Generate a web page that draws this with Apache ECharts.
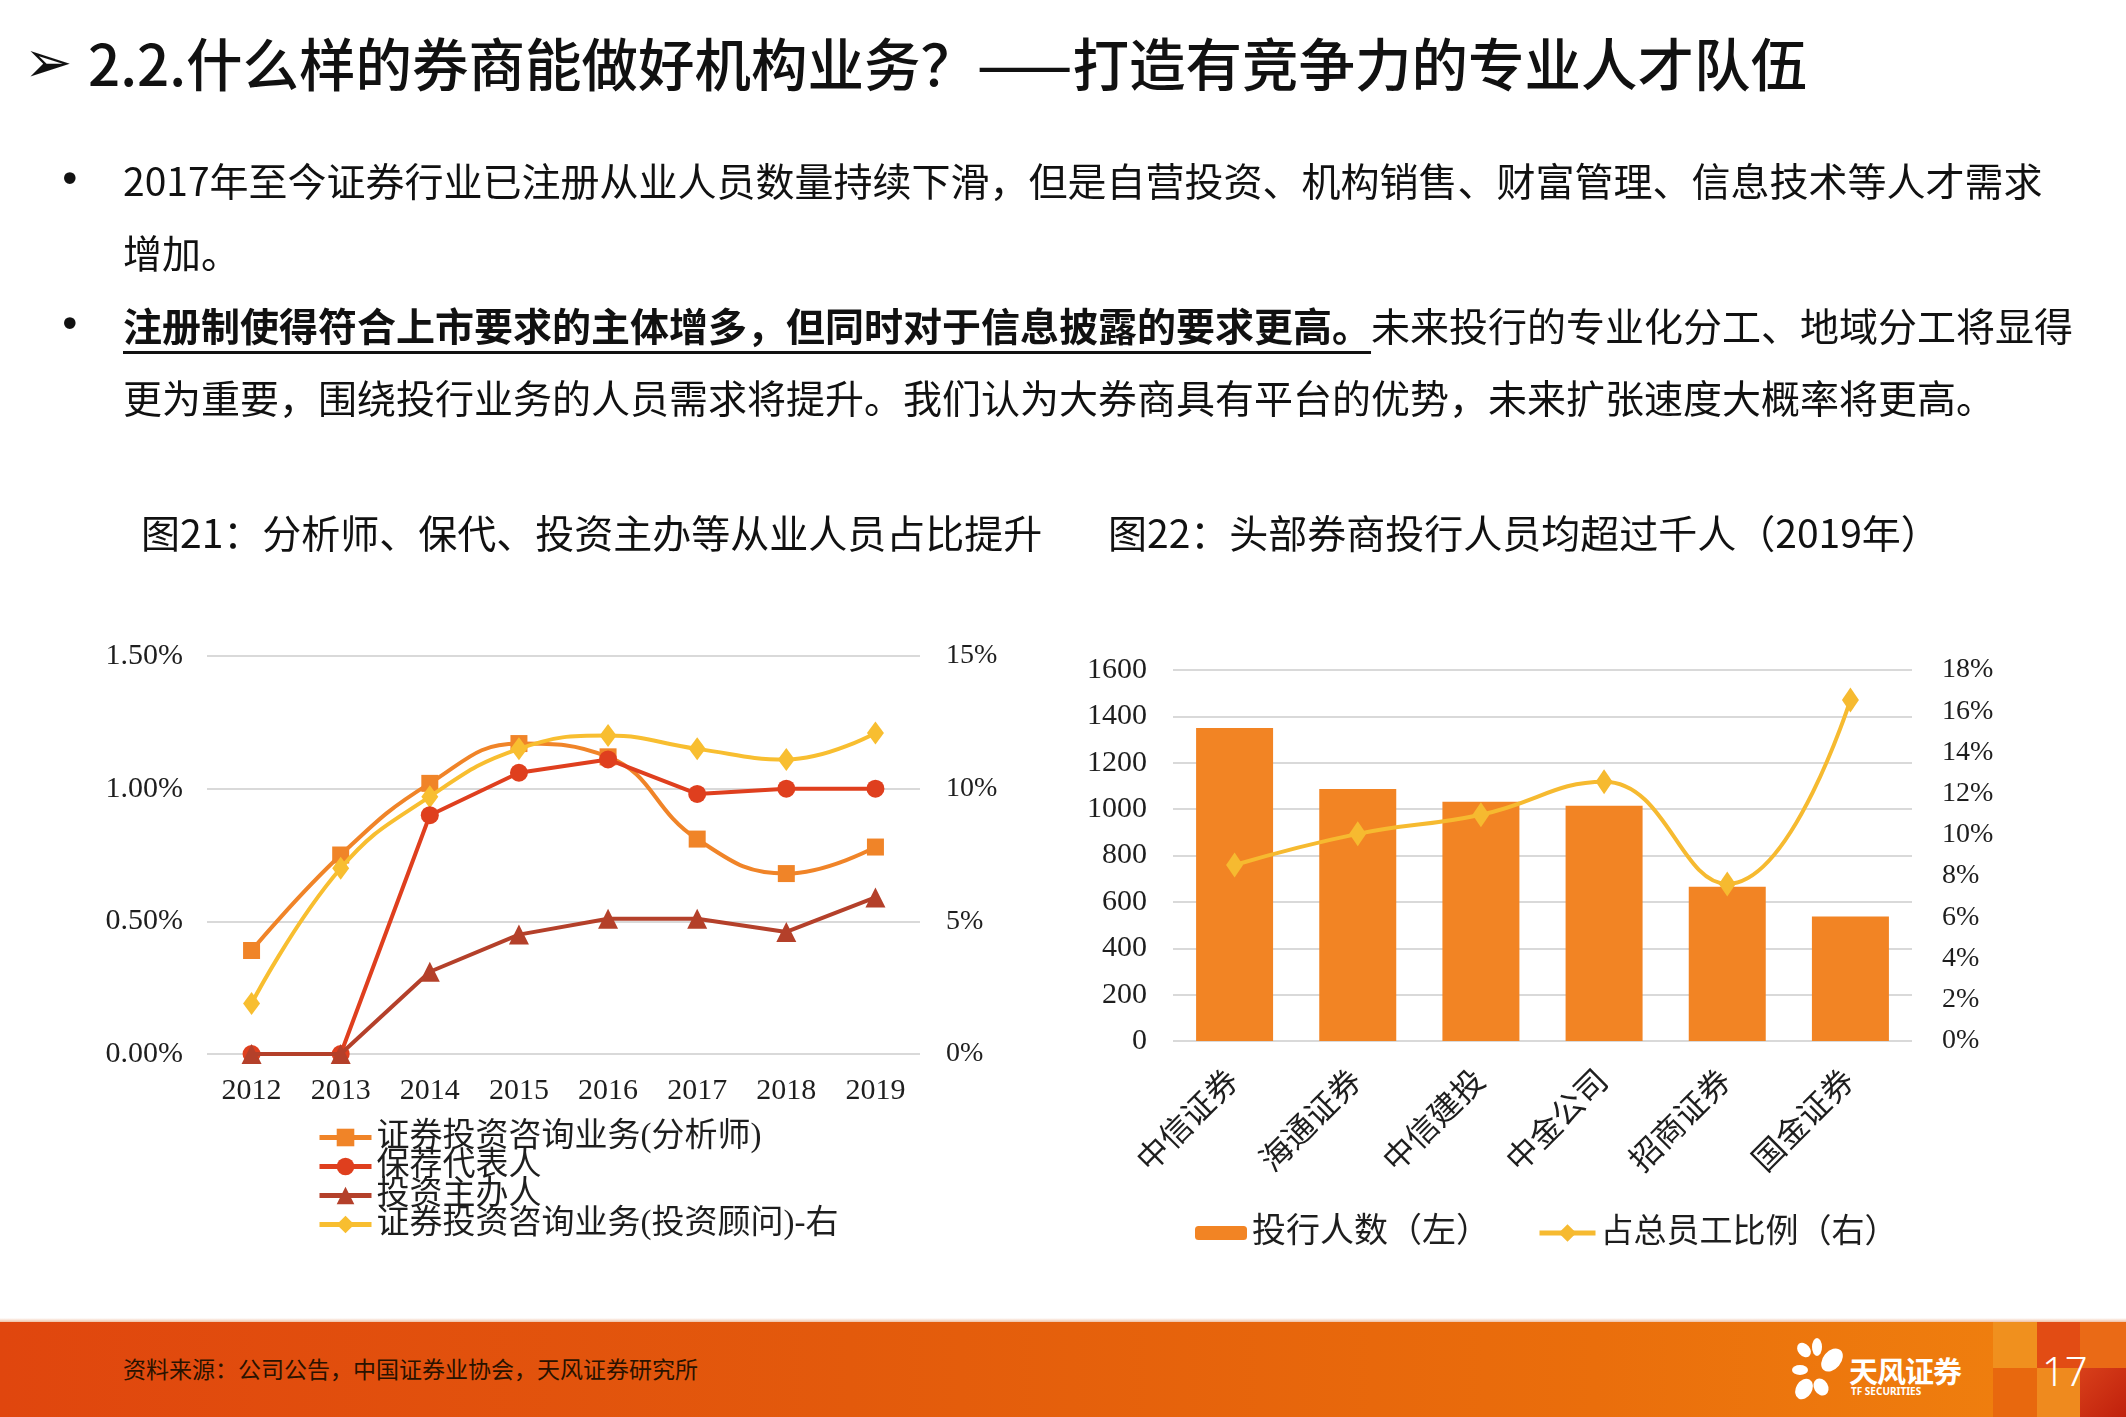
<!DOCTYPE html>
<html>
<head>
<meta charset="utf-8">
<script src="https://cdn.jsdelivr.net/npm/echarts@6/dist/echarts.min.js"></script>
<style>
html,body{margin:0;padding:0;width:2126px;height:1417px;overflow:hidden;background:#fff;
  font-family:"Noto Sans CJK SC","Noto Sans",sans-serif;color:#111;}
#chart{position:absolute;left:0;top:0;width:2126px;height:1417px;}
.t{position:absolute;white-space:nowrap;}
#title{left:88px;top:33px;font-size:56.5px;line-height:57px;font-weight:500;}
#arrow{left:24px;top:30px;font-size:58px;line-height:64px;font-family:"DejaVu Sans",sans-serif;}
.body{font-size:39px;line-height:40px;left:123px;}
.dot{font-size:40px;line-height:40px;left:58px;font-family:"DejaVu Sans",sans-serif;}
.b{font-weight:bold;text-decoration:underline;text-decoration-thickness:3px;text-underline-offset:10px;}
.ct{font-size:39px;line-height:39px;top:512px;}
#footer{position:absolute;left:0;top:1322px;width:2126px;height:95px;
  background:linear-gradient(90deg,#E0460E 0%,#E35A0C 40%,#EA6E0C 75%,#EF7E0E 94%);}
#footer .shadow{position:absolute;left:0;top:-4px;width:100%;height:4px;background:linear-gradient(180deg,rgba(240,200,170,0),rgba(220,120,60,0.45));}
.blk{position:absolute;}
#src{left:123px;top:1356px;font-size:23px;line-height:24px;color:#2a1200;}
#pno{left:2042px;top:1349px;font-size:40px;line-height:44px;color:#fff;font-family:"Noto Sans","DejaVu Sans",sans-serif;font-weight:300;}
#logoT{left:1849px;top:1355px;font-size:29px;line-height:30px;color:#fff;font-weight:bold;letter-spacing:-1px;}
#logoE{left:1851px;top:1386px;font-size:10px;line-height:10px;color:#fff;font-weight:bold;font-family:"Noto Sans",sans-serif;}
</style>
</head>
<body>
<div id="chart"></div>

<div class="t" id="arrow">➢</div>
<div class="t" id="title">2.2.什么样的券商能做好机构业务？——打造有竞争力的专业人才队伍</div>

<div class="t dot" style="top:159px;">•</div>
<div class="t body" style="top:159px;">2017年至今证券行业已注册从业人员数量持续下滑，但是自营投资、机构销售、财富管理、信息技术等人才需求</div>
<div class="t body" style="top:231px;">增加。</div>
<div class="t dot" style="top:304px;">•</div>
<div class="t body" style="top:304px;"><span class="b">注册制使得符合上市要求的主体增多，但同时对于信息披露的要求更高。</span>未来投行的专业化分工、地域分工将显得</div>
<div class="t body" style="top:376px;">更为重要，围绕投行业务的人员需求将提升。我们认为大券商具有平台的优势，未来扩张速度大概率将更高。</div>

<div class="t ct" style="left:141px;">图21：分析师、保代、投资主办等从业人员占比提升</div>
<div class="t ct" style="left:1108px;">图22：头部券商投行人员均超过千人（2019年）</div>

<div id="footer">
  <div class="shadow"></div>
  <div class="blk" style="left:1993px;top:0;width:44px;height:46px;background:#F0901E;"></div>
  <div class="blk" style="left:1993px;top:46px;width:44px;height:49px;background:#E8680E;"></div>
  <div class="blk" style="left:2037px;top:0;width:43px;height:46px;background:#E24C14;"></div>
  <div class="blk" style="left:2037px;top:46px;width:43px;height:49px;background:#EF8A1E;"></div>
  <div class="blk" style="left:2080px;top:0;width:46px;height:46px;background:#EA6A16;"></div>
  <div class="blk" style="left:2080px;top:46px;width:46px;height:49px;background:linear-gradient(135deg,#D8401A,#C0200C);"></div>
</div>
<svg style="position:absolute;left:1790px;top:1338px;" width="58" height="64" viewBox="0 0 58 64">
  <g fill="#fff">
    <ellipse cx="14" cy="12" rx="6" ry="8" transform="rotate(-40 14 12)"/>
    <ellipse cx="27" cy="9" rx="5" ry="9"/>
    <ellipse cx="42" cy="22" rx="9" ry="13" transform="rotate(40 42 22)"/>
    <ellipse cx="10" cy="32" rx="8" ry="5"/>
    <ellipse cx="14" cy="51" rx="8" ry="11" transform="rotate(30 14 51)"/>
    <ellipse cx="31" cy="49" rx="7" ry="9" transform="rotate(-30 31 49)"/>
  </g>
</svg>
<div class="t" id="logoT">天风证券</div>
<div class="t" id="logoE">TF SECURITIES</div>
<div class="t" id="src">资料来源：公司公告，中国证券业协会，天风证券研究所</div>
<div class="t" id="pno">17</div>

<script>
// ---------- data: figure 21 ----------
const years = ['2012', '2013', '2014', '2015', '2016', '2017', '2018', '2019'];
const analystShare   = [0.39, 0.75, 1.02, 1.17, 1.12, 0.81, 0.68, 0.78];   // % (left)
const sponsorShare   = [0.00, 0.00, 0.90, 1.06, 1.11, 0.98, 1.00, 1.00];   // % (left)
const principalShare = [0.00, 0.00, 0.31, 0.45, 0.51, 0.51, 0.46, 0.59];   // % (left)
const advisorShare   = [1.9, 7.0, 9.7, 11.5, 12.0, 11.5, 11.1, 12.1];      // % (right)
const seriesNames21 = ['证券投资咨询业务(分析师)', '保荐代表人', '投资主办人', '证券投资咨询业务(投资顾问)-右'];
const leftAxis21  = {min: 0, max: 1.5, interval: 0.5};
const rightAxis21 = {min: 0, max: 15, interval: 5};

// ---------- data: figure 22 ----------
const brokers = ['中信证券', '海通证券', '中信建投', '中金公司', '招商证券', '国金证券'];
const ibStaff = [1350, 1087, 1032, 1015, 665, 537];
const staffRatio = [8.54, 10.05, 10.98, 12.58, 7.62, 16.55];   // %
const seriesNames22 = ['投行人数（左）', '占总员工比例（右）'];
const leftAxis22  = {min: 0, max: 1600, interval: 200};
const rightAxis22 = {min: 0, max: 18, interval: 2};

const C_ORANGE = '#F08428', C_RED = '#DF3F1E', C_DRED = '#B4402A', C_YEL = '#F8BE30';
const C_BAR = '#F28424', C_LINE = '#F6BA30';
const SERIF = '"Liberation Serif","Noto Sans CJK SC",serif';
const TXT = '#1e1e1e';
const GRID_LINE = {show: true, lineStyle: {color: '#D9D9D9', width: 2}};

const chart = echarts.init(document.getElementById('chart'));
chart.setOption({
  animation: false,
  grid: [
    {left: 207, top: 656, width: 713, height: 398},
    {left: 1173, top: 670, width: 739, height: 371}
  ],
  legend: [
    {data: seriesNames21, orient: 'vertical', left: 312, top: 1116, itemGap: -4,
     itemWidth: 52, itemHeight: 22, lineStyle: {width: 5},
     textStyle: {fontFamily: SERIF, fontSize: 33, lineHeight: 30, color: TXT}},
    {data: [seriesNames22[0]], left: 1190, top: 1211, itemWidth: 52, itemHeight: 14,
     textStyle: {fontFamily: SERIF, fontSize: 34, lineHeight: 34, color: TXT}},
    {data: [seriesNames22[1]], left: 1532, top: 1211, itemWidth: 56, itemHeight: 22,
     lineStyle: {width: 5},
     textStyle: {fontFamily: SERIF, fontSize: 33, lineHeight: 34, color: TXT}}
  ],
  xAxis: [
    {type: 'category', gridIndex: 0, data: years, boundaryGap: true,
     axisLine: {show: false}, axisTick: {show: false},
     axisLabel: {fontFamily: SERIF, fontSize: 30, color: TXT, margin: 22}},
    {type: 'category', gridIndex: 1, data: brokers, boundaryGap: true,
     axisLine: {show: false}, axisTick: {show: false},
     axisLabel: {fontFamily: SERIF, fontSize: 32, color: TXT, rotate: 45, margin: 36, interval: 0}}
  ],
  yAxis: [
    {type: 'value', gridIndex: 0, position: 'left', ...leftAxis21,
     axisLine: {show: false}, axisTick: {show: false}, splitLine: GRID_LINE,
     axisLabel: {fontFamily: SERIF, fontSize: 30, color: TXT, margin: 24,
       formatter: v => v.toFixed(2) + '%'}},
    {type: 'value', gridIndex: 0, position: 'right', ...rightAxis21,
     axisLine: {show: false}, axisTick: {show: false}, splitLine: {show: false},
     axisLabel: {fontFamily: SERIF, fontSize: 28, color: TXT, margin: 26,
       formatter: v => v + '%'}},
    {type: 'value', gridIndex: 1, position: 'left', ...leftAxis22,
     axisLine: {show: false}, axisTick: {show: false}, splitLine: GRID_LINE,
     axisLabel: {fontFamily: SERIF, fontSize: 30, color: TXT, margin: 26,
       formatter: v => String(v)}},
    {type: 'value', gridIndex: 1, position: 'right', ...rightAxis22,
     axisLine: {show: false}, axisTick: {show: false}, splitLine: {show: false},
     axisLabel: {fontFamily: SERIF, fontSize: 28, color: TXT, margin: 30,
       formatter: v => v + '%'}}
  ],
  series: [
    {name: seriesNames21[0], type: 'line', xAxisIndex: 0, yAxisIndex: 0, data: analystShare,
     smooth: 0.45, symbol: 'rect', symbolSize: 17,
     lineStyle: {color: C_ORANGE, width: 4}, itemStyle: {color: C_ORANGE}, z: 2},
    {name: seriesNames21[3], type: 'line', xAxisIndex: 0, yAxisIndex: 1, data: advisorShare,
     smooth: 0.45, symbol: 'diamond', symbolSize: [17, 23],
     lineStyle: {color: C_YEL, width: 4}, itemStyle: {color: C_YEL}, z: 3},
    {name: seriesNames21[1], type: 'line', xAxisIndex: 0, yAxisIndex: 0, data: sponsorShare,
     symbol: 'circle', symbolSize: 18,
     lineStyle: {color: C_RED, width: 4}, itemStyle: {color: C_RED}, z: 4},
    {name: seriesNames21[2], type: 'line', xAxisIndex: 0, yAxisIndex: 0, data: principalShare,
     symbol: 'triangle', symbolSize: 20,
     lineStyle: {color: C_DRED, width: 4}, itemStyle: {color: C_DRED}, z: 5},
    {name: seriesNames22[0], type: 'bar', xAxisIndex: 1, yAxisIndex: 2, data: ibStaff,
     barWidth: 77, itemStyle: {color: C_BAR}, z: 2},
    {name: seriesNames22[1], type: 'line', xAxisIndex: 1, yAxisIndex: 3, data: staffRatio,
     smooth: 0.45, symbol: 'diamond', symbolSize: [17, 25],
     lineStyle: {color: C_LINE, width: 4}, itemStyle: {color: C_LINE}, z: 3}
  ]
});
</script>
</body>
</html>
